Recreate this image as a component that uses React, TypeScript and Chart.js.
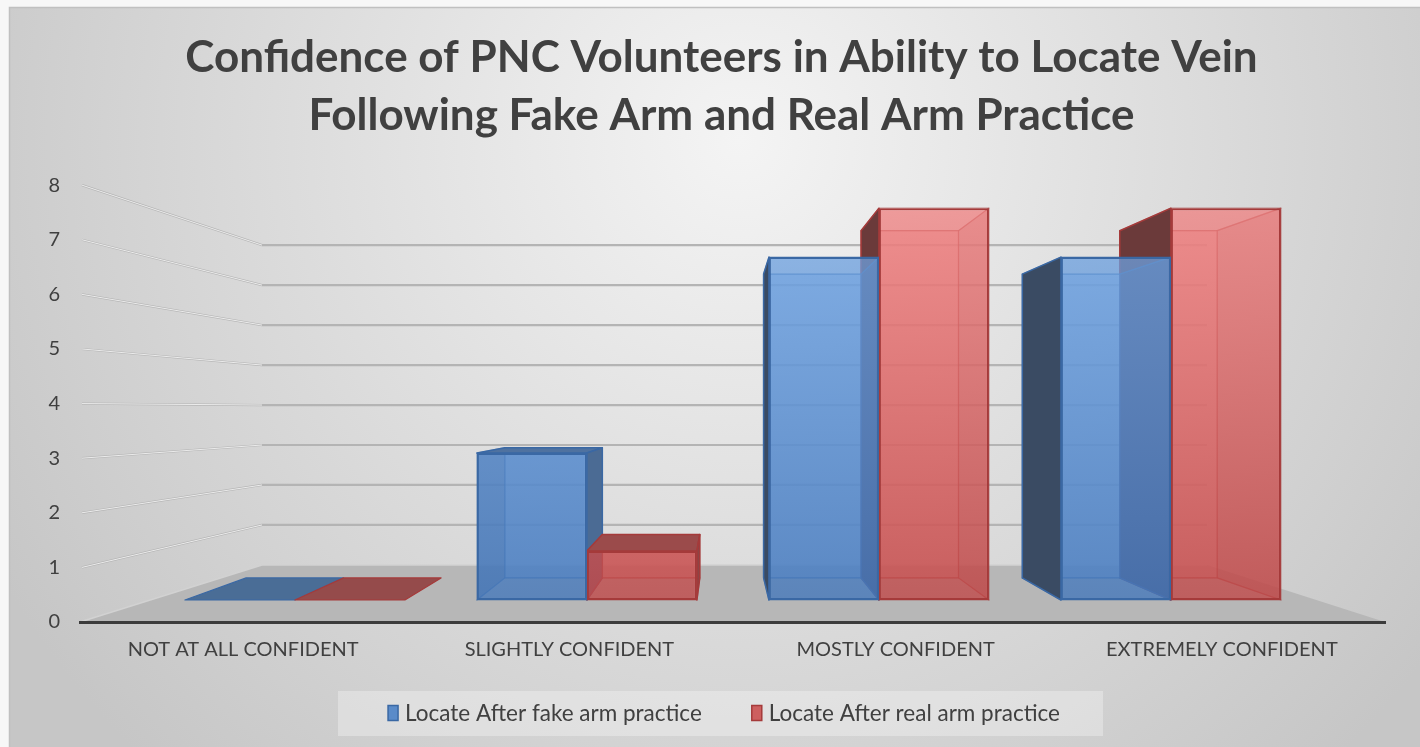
import React, { useEffect, useRef } from 'react';
import { Chart, registerables } from 'chart.js';

Chart.register(...registerables);

// ---------- data ----------
const categories = ['NOT AT ALL CONFIDENT', 'SLIGHTLY CONFIDENT', 'MOSTLY CONFIDENT', 'EXTREMELY CONFIDENT'];
const fakeArmPractice = [0, 3, 7, 7];
const realArmPractice = [0, 1, 8, 8];
const seriesNames = ['Locate After fake arm practice', 'Locate After real arm practice'];
const yTickValues = [0, 1, 2, 3, 4, 5, 6, 7, 8];
const titleLines = ['Confidence of PNC Volunteers in Ability to Locate Vein', 'Following Fake Arm and Real Arm Practice'];

// ---------- style ----------
const FONT = 'Lato, "Open Sans", sans-serif';
const TEXT = '#404040';
const TITLE_SHIFT = 29;

// perspective used for the 3-D look
const BAR_VP = { x: 722, y: 406 };
const BAR_DEPTH = 0.886;
const WALL_VP_Y = 409;
const WALL_DEPTH = 0.732;
const WALL_LEFT_INSET = 182;
const WALL_RIGHT_INSET = 178;

// hidden axes that place the boxes' front faces inside the 3-D scene
const BAR_X_MIN = -0.736;
const BAR_X_MAX = 3.733;
const BAR_Y_MIN = -0.449;
const BAR_Y_MAX = 8.469;

const palette = [
  {
    frontTop: 'rgba(116,168,230,0.75)', frontBottom: 'rgba(66,117,184,0.8)',
    back: 'rgba(130,175,235,0.5)', hidden: 'rgba(55,90,145,0.45)',
    left: '#3a4b63', right: '#4b6b94', top: '#4f72a0', flat: '#4a6d96',
    border: '#3a68a4', edge: 'rgba(58,104,164,0.5)', legend: '#5a8bc9',
  },
  {
    frontTop: 'rgba(242,131,131,0.75)', frontBottom: 'rgba(189,69,69,0.8)',
    back: 'rgba(240,140,140,0.5)', hidden: 'rgba(170,70,70,0.3)',
    left: '#6b3a3a', right: '#8e4444', top: '#9b4b4b', flat: '#954b4b',
    border: '#a53a3a', edge: 'rgba(165,58,58,0.5)', legend: '#cd5f5f',
  },
];

type Pt = [number, number];

function poly(ctx: CanvasRenderingContext2D, pts: Pt[], fill: string, stroke: string, lw: number) {
  ctx.beginPath();
  ctx.moveTo(pts[0][0], pts[0][1]);
  for (let i = 1; i < pts.length; i++) ctx.lineTo(pts[i][0], pts[i][1]);
  ctx.closePath();
  ctx.fillStyle = fill;
  ctx.fill();
  ctx.strokeStyle = stroke;
  ctx.lineWidth = lw;
  ctx.stroke();
}

function drawBox(ctx: CanvasRenderingContext2D, it: any) {
  const { L, R, T, B, c } = it;
  const P = (x: number, y: number): Pt => [BAR_VP.x + BAR_DEPTH * (x - BAR_VP.x), BAR_VP.y + BAR_DEPTH * (y - BAR_VP.y)];
  const fTL: Pt = [L, T], fTR: Pt = [R, T], fBL: Pt = [L, B], fBR: Pt = [R, B];
  const bTL = P(L, T), bTR = P(R, T), bBL = P(L, B), bBR = P(R, B);
  if (B - T < 1) {
    poly(ctx, [fBL, fBR, bBR, bBL], c.flat, c.border, 1.2);
    return;
  }
  const faces: Record<string, Pt[]> = {
    bottom: [fBL, fBR, bBR, bBL],
    top: [fTL, fTR, bTR, bTL],
    left: [fTL, bTL, bBL, fBL],
    right: [fTR, bTR, bBR, fBR],
  };
  const vis: Record<string, boolean> = {
    left: L > BAR_VP.x,
    right: R < BAR_VP.x,
    top: T > BAR_VP.y,
    bottom: B < BAR_VP.y,
  };
  poly(ctx, [bTL, bTR, bBR, bBL], c.back, c.edge, 1.2);
  ['bottom', 'top', 'left', 'right'].forEach((k) => {
    if (!vis[k]) {
      const fill = k === 'left' || k === 'right' ? c.hidden : 'rgba(0,0,0,0)';
      poly(ctx, faces[k], fill, c.edge, 1.2);
    }
  });
  ['bottom', 'top', 'left', 'right'].forEach((k) => {
    if (vis[k]) poly(ctx, faces[k], c[k] || c.top, c.border, 1.5);
  });
}

const backgroundPlugin = {
  id: 'panelBackground',
  afterLayout(chart: any) {
    const t = chart.titleBlock;
    if (t) {
      t.left += TITLE_SHIFT;
      t.right += TITLE_SHIFT;
    }
  },
  beforeDraw(chart: any) {
    const { ctx, width, height, chartArea, scales } = chart;
    ctx.save();
    ctx.fillStyle = '#f7f7f7';
    ctx.fillRect(0, 0, width, height);
    const g = ctx.createRadialGradient(740, 140, 0, 740, 140, 860);
    g.addColorStop(0, '#f4f4f4');
    g.addColorStop(1, '#c6c6c6');
    ctx.fillStyle = g;
    ctx.fillRect(9.5, 7.5, width, height);
    ctx.strokeStyle = '#c0c0c0';
    ctx.lineWidth = 1.5;
    ctx.strokeRect(9.5, 7.5, width, height);

    const ys = scales.y;
    const wl = chartArea.left + WALL_LEFT_INSET;
    const wr = chartArea.right - WALL_RIGHT_INSET;
    const wy = (v: number) => WALL_VP_Y + WALL_DEPTH * (ys.getPixelForValue(v) - WALL_VP_Y);
    const y0 = ys.getPixelForValue(0);

    // floor
    ctx.beginPath();
    ctx.moveTo(chartArea.left, y0);
    ctx.lineTo(chartArea.right, y0);
    ctx.lineTo(wr, wy(0));
    ctx.lineTo(wl, wy(0));
    ctx.closePath();
    ctx.fillStyle = '#b7b7b7';
    ctx.fill();
    ctx.beginPath();
    ctx.moveTo(chartArea.left, y0);
    ctx.lineTo(wl, wy(0));
    ctx.lineTo(wr, wy(0));
    ctx.strokeStyle = '#d2d2d2';
    ctx.lineWidth = 1.5;
    ctx.stroke();

    // side wall + back wall grid lines
    yTickValues.slice(1).forEach((v) => {
      const fy = ys.getPixelForValue(v);
      ctx.beginPath();
      ctx.moveTo(chartArea.left + 2, fy);
      ctx.lineTo(wl, wy(v));
      ctx.lineTo(wr, wy(v));
      ctx.strokeStyle = '#b4b4b4';
      ctx.lineWidth = 2.2;
      ctx.stroke();
      ctx.beginPath();
      ctx.moveTo(chartArea.left + 2, fy);
      ctx.lineTo(wl, wy(v));
      ctx.strokeStyle = '#f2f2f2';
      ctx.lineWidth = 0.9;
      ctx.stroke();
    });
    ctx.restore();
  },
};

const boxPlugin = {
  id: 'boxes3d',
  beforeDatasetsDraw(chart: any) {
    const { ctx } = chart;
    const items: any[] = [];
    chart.data.datasets.forEach((_ds: any, di: number) => {
      const meta = chart.getDatasetMeta(di);
      meta.data.forEach((el: any) => {
        const p = el.getProps(['x', 'y', 'base', 'width'], true);
        items.push({
          L: p.x - p.width / 2, R: p.x + p.width / 2,
          T: Math.min(p.y, p.base), B: Math.max(p.y, p.base), c: palette[di],
        });
      });
    });
    items.sort((a, b) => Math.abs((b.L + b.R) / 2 - BAR_VP.x) - Math.abs((a.L + a.R) / 2 - BAR_VP.x));
    ctx.save();
    ctx.lineJoin = 'round';
    items.forEach((it) => drawBox(ctx, it));
    ctx.restore();
  },
};

const legendPlugin = {
  id: 'boxLegend',
  afterDraw(chart: any) {
    const { ctx } = chart;
    ctx.save();
    const cy = 713;
    ctx.fillStyle = 'rgba(255,255,255,0.3)';
    ctx.fillRect(338, 691, 765, 45);
    ctx.font = `22.5px ${FONT}`;
    ctx.textBaseline = 'middle';
    const boxW = 10, boxH = 15, gap = 7, itemGap = 50;
    const widths = chart.data.datasets.map((ds: any) => ctx.measureText(ds.label).width);
    const total = widths.reduce((a: number, w: number) => a + boxW + gap + w, 0) + itemGap * (widths.length - 1);
    let x = 724 - total / 2;
    chart.data.datasets.forEach((ds: any, i: number) => {
      const p = palette[i];
      ctx.fillStyle = p.legend;
      ctx.fillRect(x, cy - boxH / 2, boxW, boxH);
      ctx.strokeStyle = p.border;
      ctx.lineWidth = 1.5;
      ctx.strokeRect(x, cy - boxH / 2, boxW, boxH);
      ctx.fillStyle = TEXT;
      ctx.fillText(ds.label, x + boxW + gap, cy + 1);
      x += boxW + gap + widths[i] + itemGap;
    });
    ctx.restore();
  },
};

function frontFill(i: number) {
  return (context: any) => {
    const { chart } = context;
    const area = chart.chartArea;
    const p = palette[i];
    if (!area) return p.frontTop;
    const g = chart.ctx.createLinearGradient(0, area.top, 0, area.bottom);
    g.addColorStop(0, p.frontTop);
    g.addColorStop(1, p.frontBottom);
    return g;
  };
}

export default function App() {
  const canvasRef = useRef<HTMLCanvasElement | null>(null);

  useEffect(() => {
    if (!canvasRef.current) return;
    Chart.defaults.font.family = FONT;
    const seriesValues = [fakeArmPractice, realArmPractice];
    const chart = new Chart(canvasRef.current, {
      type: 'bar',
      data: {
        labels: categories,
        datasets: seriesValues.map((vals, i) => ({
          label: seriesNames[i],
          data: vals.map((v, k) => ({ x: k, y: v })),
          xAxisID: 'xb',
          yAxisID: 'yb',
          backgroundColor: frontFill(i),
          borderColor: palette[i].border,
          borderWidth: 2,
          borderSkipped: false,
          categoryPercentage: 0.7534,
          barPercentage: 1,
        })),
      },
      options: {
        animation: false,
        responsive: true,
        maintainAspectRatio: false,
        layout: { padding: { left: 0, right: 35, top: 0, bottom: 0 } },
        plugins: {
          legend: { display: false },
          tooltip: { enabled: false },
          title: {
            display: true,
            text: titleLines,
            color: TEXT,
            font: { size: 44, weight: 'bold', lineHeight: 1.32, family: FONT },
            padding: { top: 29, bottom: 40 },
          },
        },
        scales: {
          x: {
            type: 'category',
            position: 'bottom',
            grid: { display: false, drawTicks: false },
            border: { display: true, color: '#3c3c3c', width: 3 },
            ticks: { color: TEXT, font: { size: 20, family: FONT }, padding: 16, maxRotation: 0, autoSkip: false },
            afterFit: (s: any) => { s.height = 125; },
          },
          y: {
            type: 'linear',
            position: 'left',
            min: 0,
            max: 8,
            grid: { display: false, drawTicks: false },
            border: { display: false },
            ticks: { stepSize: 1, color: TEXT, font: { size: 20, family: FONT }, padding: 20 },
            afterFit: (s: any) => { s.width = 80; },
          },
          xb: {
            type: 'linear',
            display: false,
            offset: false,
            min: BAR_X_MIN,
            max: BAR_X_MAX,
            grid: { offset: false },
            afterBuildTicks: (s: any) => { s.ticks = categories.map((_c, k) => ({ value: k })); },
          },
          yb: {
            type: 'linear',
            display: false,
            offset: false,
            min: BAR_Y_MIN,
            max: BAR_Y_MAX,
          },
        },
      } as any,
      plugins: [backgroundPlugin, boxPlugin, legendPlugin],
    });
    return () => chart.destroy();
  }, []);

  return (
    <div style={{ position: 'fixed', left: 0, top: 0, width: 1420, height: 747 }}>
      <canvas ref={canvasRef} style={{ width: '100%', height: '100%' }} />
    </div>
  );
}
